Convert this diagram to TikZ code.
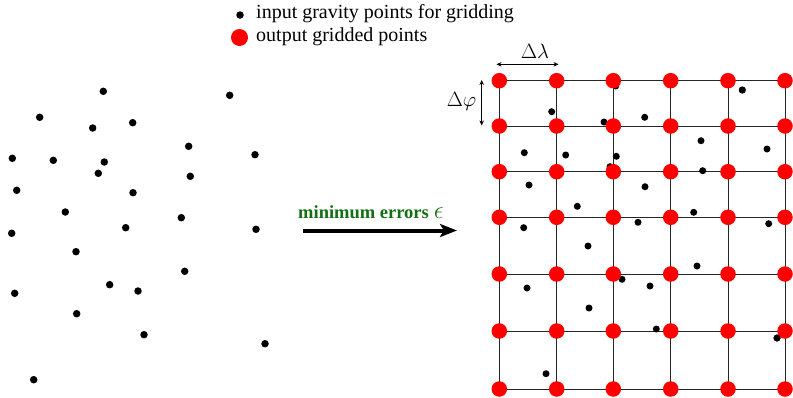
\documentclass[tikz,border=0pt]{standalone}
\usepackage{fontspec}
\setmainfont{Liberation Serif}
\usetikzlibrary{arrows.meta}
\definecolor{dgreen}{RGB}{20,110,20}
\definecolor{gred}{RGB}{255,0,0}
\tikzset{
  bdot/.style={circle,fill=black,inner sep=0pt,minimum size=7.5pt},
  rdot/.style={circle,fill=gred,inner sep=0pt,minimum size=15.5pt},
  gline/.style={line width=0.9pt,draw=black!85},
  darrow/.style={{Stealth[length=5pt,width=4.5pt]}-{Stealth[length=5pt,width=4.5pt]},line width=0.8pt},
  lbl/.style={font=\fontsize{20pt}{22pt}\selectfont,anchor=west,inner sep=0pt}
}
\begin{document}
\begin{tikzpicture}[x=1pt,y=-1pt]
\useasboundingbox (0,0) rectangle (793,397);
% legend
\node[bdot] (lb) at (240,15) {};
\node[lbl] (lbt) at (256,14) {input gravity points for gridding};
\node[rdot,minimum size=17pt] (lr) at (239.5,37.5) {};
\node[lbl] (lrt) at (256,37) {output gridded points};
% left scattered points
\foreach \x/\y [count=\i] in {103.3/91.3,229.7/95.3,39.7/117.3,92.7/128,132.7/122.7,188.7/146.3,255/154.7,12.3/158.3,53.3/160.3,104.3/162,98.3/173.3,190.3/176.3,16.7/190.3,133/192.7,65.3/212,181.3/217.7,125.7/227.7,256/229.3,11.7/233.3,76/251.7,184.7/271.3,14.7/293.3,109.7/284.7,138/291,76.7/313.7,144/334.7,265/343.7,33.7/379.7}
  \node[bdot] (p\i) at (\x,\y) {};
% main arrow
\coordinate (as) at (303,230.5);
\coordinate (ae) at (457,230.5);
\draw[line width=4pt,-{Stealth[length=17pt,width=13pt,inset=4pt]}] (as) -- (ae);
\node[font=\fontsize{18.5pt}{21pt}\selectfont\bfseries,text=dgreen,anchor=west,inner sep=0pt] (atxt) at (298,212)
  {minimum errors\hspace{5pt}{\fontsize{26pt}{28pt}\selectfont$\epsilon$}};
% grid
\foreach \c/\x in {1/499.3,2/556.7,3/613.3,4/670.7,5/728,6/785}
  \foreach \r/\y in {1/80.7,2/126,3/171.7,4/217.3,5/274,6/331,7/389}
    \coordinate (g\c-\r) at (\x,\y);
\foreach \r in {1,...,7}
  \draw[gline] (g1-\r) -- (g6-\r);
\foreach \c in {1,...,6}
  \draw[gline] (g\c-1) -- (g\c-7);
% points in grid
\foreach \x/\y [count=\i] in {615.7/86,742.3/90,551.7/111.7,604/122,644.7/117.3,701/140.7,767/149,524.3/152.7,565.7/155,616.3/156.3,610/166.7,702.7/170.7,529/185,645/186.7,577.3/206.3,693.7/212.3,638/222.3,768.7/223.7,523.7/227.7,588/246,697/266,622/279.3,650/286,527/288,589/308,656.3/329,777/338,546/373.7}
  \node[bdot,minimum size=7pt] (q\i) at (\x,\y) {};
% red grid nodes
\foreach \c in {1,...,6}
  \foreach \r in {1,...,7}
    \node[rdot] (n\c-\r) at (g\c-\r) {};
% points that lie on top of red nodes
\node[bdot,minimum size=7pt] (q2b) at (742.3,90) {};
\node[bdot,minimum size=7pt] (q27b) at (777,338) {};
% delta labels
\coordinate (dl1) at (496.5,64.3);
\coordinate (dl2) at (558.5,64.3);
\draw[darrow] (dl1) -- (dl2);
\node[font=\fontsize{21pt}{23pt}\selectfont] (dlt) at (535,51) {$\Delta\lambda$};
\coordinate (dp1) at (481.7,80);
\coordinate (dp2) at (481.7,125.5);
\draw[darrow] (dp1) -- (dp2);
\node[font=\fontsize{21pt}{23pt}\selectfont] (dpt) at (461.5,101) {$\Delta\varphi$};
\end{tikzpicture}
\end{document}
